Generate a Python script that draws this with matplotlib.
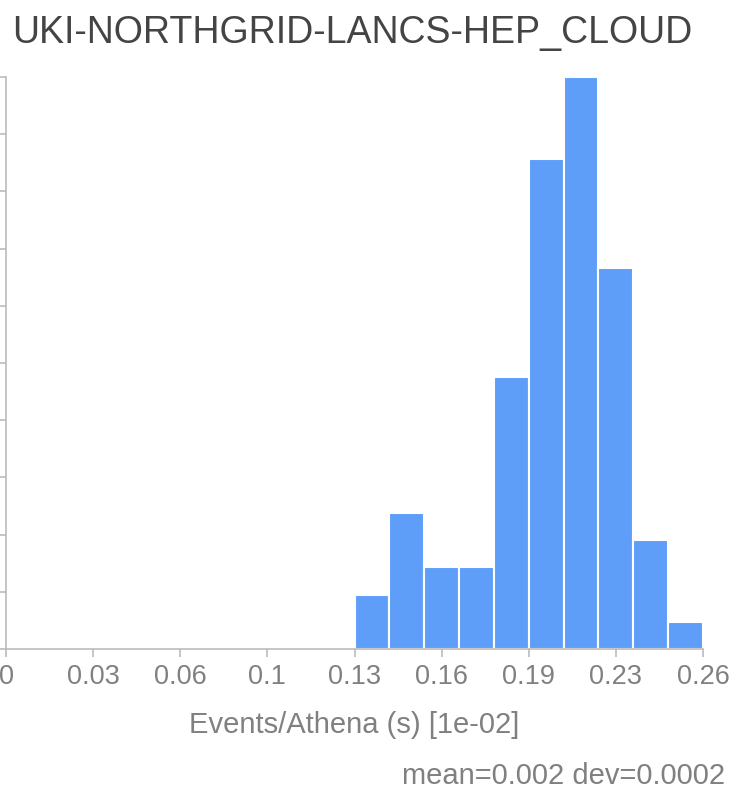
import numpy as np
import matplotlib
matplotlib.use('Agg')
import matplotlib.pyplot as plt

plt.rcParams['font.family'] = ['Liberation Sans', 'DejaVu Sans']

# histogram data (counts per bin)
title = 'UKI-NORTHGRID-LANCS-HEP_CLOUD'
bin_start = 0.13
bin_width = 0.013
counts = [2, 5, 3, 3, 10, 18, 21, 14, 4, 1]
x_max = 0.26
y_max = 21
xtick_labels = ['0', '0.03', '0.06', '0.1', '0.13', '0.16', '0.19', '0.23', '0.26']
xlabel = 'Events/Athena (s) [1e-02]'
stats_text = 'mean=0.002 dev=0.0002'

W, H = 732, 789
fig = plt.figure(figsize=(W / 100, H / 100), dpi=100)
ax = fig.add_axes([6 / W, 1 - 649 / H, (703 - 6) / W, (649 - 77) / H])

edges = bin_start + bin_width * np.arange(len(counts))
ax.bar(edges, counts, width=bin_width, align='edge', color='#5e9ef9',
       edgecolor='white', linewidth=1.5)

ax.set_xlim(0, x_max)
ax.set_ylim(0, y_max)
ax.set_xticks(np.linspace(0, x_max, len(xtick_labels)))
ax.set_xticklabels(xtick_labels)
ax.set_yticks(np.linspace(0, y_max, 11))
ax.set_yticklabels([])

axis_col = '#bbbbbb'
for s in ['top', 'right']:
    ax.spines[s].set_visible(False)
for s in ['left', 'bottom']:
    ax.spines[s].set_color(axis_col)
    ax.spines[s].set_linewidth(1.2)
ax.tick_params(axis='both', colors=axis_col, length=6, width=1.2)
ax.tick_params(axis='x', labelcolor='#808080', labelsize=19.5, pad=5)

ax.set_xlabel(xlabel, fontsize=21, color='#808080', labelpad=15)

fig.text(12 / W, 1 - 43 / H, title, fontsize=27, color='#444444', va='baseline')
fig.text(725 / W, 1 - 784 / H, stats_text, fontsize=21, color='#808080',
         ha='right', va='baseline')

fig.savefig('out.png', dpi=100)
